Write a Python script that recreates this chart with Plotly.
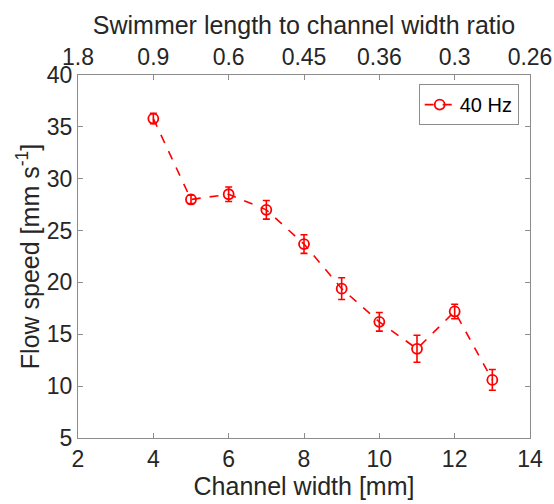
import plotly.graph_objects as go

channel_width = [4, 5, 6, 7, 8, 9, 10, 11, 12, 13]
flow_speed = [35.8, 28.0, 28.5, 27.0, 23.7, 19.4, 16.2, 13.6, 17.2, 10.6]
flow_err = [0.5, 0.4, 0.7, 0.9, 0.9, 1.05, 0.9, 1.3, 0.7, 1.0]

bottom_ticks = [2, 4, 6, 8, 10, 12, 14]
top_tick_labels = ["1.8", "0.9", "0.6", "0.45", "0.36", "0.3", "0.26"]
y_ticks = [5, 10, 15, 20, 25, 30, 35, 40]

RED = "#FF0000"
TXT = "#262626"
AX = "#8c8c8c"
FONT = "Liberation Sans, Arial, sans-serif"
TICK_SIZE = 23
TITLE_SIZE = 25

fig = go.Figure()
fig.add_trace(go.Scatter(
    x=channel_width, y=flow_speed,
    mode="lines+markers",
    name="40 Hz",
    line=dict(color=RED, width=1.6, dash="dash"),
    marker=dict(symbol="circle-open", size=10, color=RED, line=dict(width=1.8, color=RED)),
    error_y=dict(type="data", array=flow_err, visible=True, color=RED, thickness=1.6, width=3.5),
))
# invisible trace to activate top axis
fig.add_trace(go.Scatter(x=[bottom_ticks[0], bottom_ticks[-1]], y=[y_ticks[0], y_ticks[0]],
                         xaxis="x2", mode="markers", marker=dict(opacity=0),
                         showlegend=False, hoverinfo="skip"))

axis_common = dict(
    showgrid=False, zeroline=False, showline=True, linecolor=AX, linewidth=1,
    ticks="inside", ticklen=5, tickcolor=AX, tickwidth=1, automargin=False,
    tickfont=dict(family=FONT, size=TICK_SIZE, color=TXT),
)

fig.update_layout(
    width=554, height=504,
    margin=dict(l=78, r=24, t=75, b=66),
    plot_bgcolor="white", paper_bgcolor="white",
    font=dict(family=FONT, color=TXT),
    xaxis=dict(
        range=[2, 14], tickvals=bottom_ticks, mirror=False,
        title=dict(text="Channel width [mm]", font=dict(family=FONT, size=TITLE_SIZE, color=TXT), standoff=6),
        **axis_common,
    ),
    xaxis2=dict(
        range=[2, 14], tickvals=bottom_ticks, ticktext=top_tick_labels,
        overlaying="x", side="top", anchor="y",
        title=dict(text="Swimmer length to channel width ratio", font=dict(family=FONT, size=TITLE_SIZE, color=TXT), standoff=2),
        **axis_common,
    ),
    yaxis=dict(
        range=[5, 40], tickvals=y_ticks, mirror="ticks",
        title=dict(text="Flow speed [mm s<sup>-1</sup>]", font=dict(family=FONT, size=TITLE_SIZE, color=TXT), standoff=0),
        **axis_common,
    ),
    legend=dict(
        x=0.975, y=0.975, xanchor="right", yanchor="top",
        bordercolor=AX, borderwidth=1, bgcolor="white",
        font=dict(family=FONT, size=20, color="black"),
        itemwidth=30, tracegroupgap=0,
    ),
    showlegend=True,
)

fig.write_html("out.html")
